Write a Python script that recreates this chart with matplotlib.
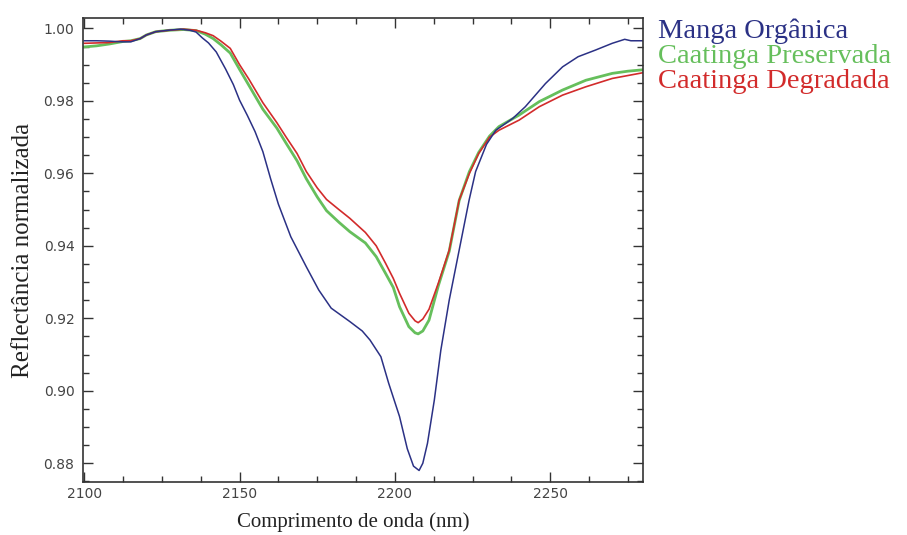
import numpy as np
import matplotlib.pyplot as plt
from matplotlib.ticker import MultipleLocator

# Manga Orgânica (azul)
wl_manga = [2100, 2104, 2108, 2112, 2115, 2118, 2120, 2123, 2127, 2131, 2134, 2136,
            2138, 2140, 2142.5, 2145.5, 2148, 2150, 2152.5, 2155, 2157.5, 2160,
            2162.5, 2166.5, 2171.5, 2175.5, 2179.5, 2185.5, 2189.5, 2192, 2195.5, 2198,
            2201.5, 2204, 2206, 2207.8, 2209, 2210.5, 2212.7, 2214.8, 2217.5, 2220.7,
            2223.9, 2226, 2229.5, 2232.5, 2238, 2242, 2248.5, 2254, 2259, 2264.5,
            2270, 2274, 2276, 2280]
r_manga = [0.9966, 0.9966, 0.9965, 0.9963, 0.9963, 0.9972, 0.9982, 0.9991, 0.9995,
           0.9998, 0.9995, 0.9990, 0.9974, 0.9960, 0.9935, 0.9888, 0.9845, 0.9802,
           0.9760, 0.9715, 0.9660, 0.9585, 0.9515, 0.9425, 0.9342, 0.9278,
           0.9228, 0.9191, 0.9165, 0.9140, 0.9094, 0.9021, 0.8929, 0.8840, 0.8792,
           0.8780, 0.8800, 0.8855, 0.8974, 0.9112, 0.9250, 0.9388, 0.9526, 0.9605,
           0.9680, 0.9719, 0.9752, 0.9784, 0.9848, 0.9894, 0.9922, 0.9940, 0.9959,
           0.9970, 0.9966, 0.9966]

# Caatinga Preservada (verde) / Degradada (vermelho)
wl_caat = [2100, 2104, 2108, 2112.5, 2115, 2118, 2120, 2123, 2127.5, 2132, 2136, 2139,
           2141.5, 2144, 2147, 2150, 2153, 2157.5, 2162, 2165, 2168.5, 2171.5, 2175,
           2178, 2182, 2185.5, 2190.5, 2194, 2197, 2199.5, 2201.5, 2204.5, 2206.5,
           2207.5, 2209, 2211, 2214, 2217.5, 2220.7, 2224, 2227, 2230.5, 2233.5, 2240,
           2246.5, 2254, 2261.5, 2270, 2275, 2280]
r_pres = [0.9949, 0.9952, 0.9957, 0.9964, 0.9966, 0.9972, 0.9982, 0.9991, 0.9995,
          0.9997, 0.9994, 0.9984, 0.9972, 0.9955, 0.9932, 0.9887, 0.9843, 0.9777,
          0.9725, 0.9683, 0.9635, 0.9585, 0.9535, 0.9497, 0.9465, 0.9439, 0.9408,
          0.9370, 0.9324, 0.9285, 0.9232, 0.9177, 0.9160, 0.9157, 0.9165, 0.9195,
          0.9290, 0.9385, 0.9525, 0.9605, 0.9658, 0.9703, 0.9729, 0.9761, 0.9798,
          0.9830, 0.9857, 0.9876, 0.9882, 0.9886]
r_degr = [0.9959, 0.9960, 0.9961, 0.9966, 0.9966, 0.9972, 0.9982, 0.9991, 0.9995,
          0.9998, 0.9995, 0.9988, 0.9980, 0.9965, 0.9945, 0.9900, 0.9860, 0.9795,
          0.9740, 0.9700, 0.9655, 0.9605, 0.9560, 0.9528, 0.9500, 0.9476, 0.9437,
          0.9400, 0.9352, 0.9310, 0.9269, 0.9214, 0.9193, 0.9188, 0.9198, 0.9225,
          0.9297, 0.9388, 0.9526, 0.9600, 0.9655, 0.9700, 0.9719, 0.9747, 0.9784,
          0.9816, 0.9839, 0.9862, 0.9870, 0.9878]

nomes = ["Manga Orgânica", "Caatinga Preservada", "Caatinga Degradada"]
cores = ["#2b3185", "#66bf5c", "#d22b2b"]

fig = plt.figure(figsize=(9.07, 5.35), dpi=100)
ax = fig.add_axes([0.0912, 0.0996, 0.6181, 0.8662])

ax.plot(wl_caat, r_pres, color=cores[1], lw=2.0)
ax.plot(wl_caat, r_degr, color=cores[2], lw=1.2)
ax.plot(wl_manga, r_manga, color=cores[0], lw=1.1)

ax.set_xlim(2099.5, 2280)
ax.set_ylim(0.8749, 1.0028)
ax.xaxis.set_major_locator(MultipleLocator(50))
ax.xaxis.set_minor_locator(MultipleLocator(12.5))
ax.yaxis.set_major_locator(MultipleLocator(0.02))
ax.yaxis.set_minor_locator(MultipleLocator(0.005))
ax.yaxis.set_major_formatter(plt.FormatStrFormatter("%.2f"))

ax.tick_params(which="both", direction="in", top=True, right=True,
               colors="#333333", labelcolor="#444444", labelsize=10)
ax.tick_params(which="major", length=7, width=1.0)
ax.tick_params(which="minor", length=4, width=1.0)
ax.tick_params(axis="y", pad=6)
ax.tick_params(axis="x", pad=4)
for s in ax.spines.values():
    s.set_color("#333333")
    s.set_linewidth(1.2)

fig.text(0.39, 1 - 527 / 535, "Comprimento de onda (nm)", family="Liberation Serif",
         fontsize=15, ha="center", va="baseline", color="#222222")
fig.text(0.025, 0.531, "Reflectância normalizada", family="Liberation Serif",
         fontsize=18, rotation=90, ha="center", va="center", color="#222222")

ys = [38, 63, 88]
for nome, cor, y in zip(nomes, cores, ys):
    fig.text(658 / 907, 1 - y / 535, nome, family="Liberation Serif", fontsize=20.5,
             color=cor, ha="left", va="baseline")

fig.savefig("out.png", dpi=100)
